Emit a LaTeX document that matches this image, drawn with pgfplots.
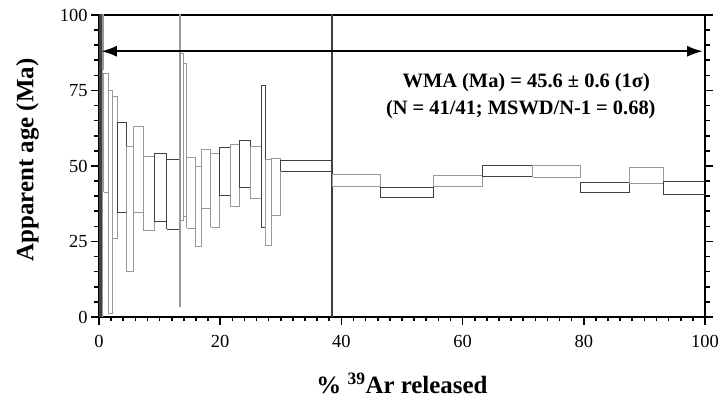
\documentclass[border=0pt]{standalone}
\usepackage{fontspec}
\setmainfont{Liberation Serif}
\usepackage{pgfplots}
\pgfplotsset{compat=1.18}
\usetikzlibrary{arrows.meta}

\definecolor{lg}{gray}{0.6}
\definecolor{dg}{gray}{0.25}

\newcommand{\bx}[5]{\addplot[#5, line width=0.9bp, forget plot] coordinates {(#1,#3) (#1,#4) (#2,#4) (#2,#3) (#1,#3)};}

\begin{document}
\begin{tikzpicture}
\begin{axis}[
  name=ax,
  scale only axis, width=606bp, height=302bp,
  xmin=0, xmax=100, ymin=0, ymax=100,
  xtick={0,20,...,100}, ytick={0,25,...,100},
  minor xtick={0,2,...,100}, minor ytick={0,5,...,100},
  tick align=outside,
  xtick pos=lower, ytick pos=both, yticklabel pos=left,
  major tick length=8bp, minor tick length=4.5bp,
  axis line style={line width=2bp},
  every tick/.style={line width=1.6bp, black},
  tick label style={font=\fontsize{18.5}{18.5}\selectfont},
  xticklabel style={yshift=-7bp},
  /pgf/number format/assume math mode=true,
  xlabel={\% \textsuperscript{39}Ar released},
  ylabel={Apparent age (Ma)},
  label style={font=\bfseries\fontsize{25}{25}\selectfont},
  xlabel style={at={(axis description cs:0.5,-0.2185)}, anchor=center},
  ylabel style={at={(axis description cs:-0.118,0.52)}, anchor=center, rotate=0},
]
% near-zero steps
\bx{0}{0.08}{-20}{150}{dg}
\bx{0.08}{0.16}{-20}{150}{dg}
\bx{0.16}{0.24}{-20}{150}{dg}
\bx{0.24}{0.32}{-20}{150}{dg}
\bx{0.32}{0.42}{13.3}{150}{dg}
\bx{0.42}{0.52}{-20}{150}{dg}
\bx{0.52}{0.62}{-20}{150}{lg}
\bx{0.62}{0.80}{82}{150}{lg}
% main steps
\bx{0.80}{1.53}{41.3}{80.5}{lg}
\bx{1.53}{2.19}{1.3}{75.0}{lg}
\bx{2.19}{3.09}{26.0}{73.0}{lg}
\bx{3.09}{4.57}{34.5}{64.3}{dg}
\bx{4.57}{5.66}{15.0}{56.6}{lg}
\bx{5.66}{7.31}{34.5}{63.2}{lg}
\bx{7.31}{9.13}{28.6}{53.3}{lg}
\bx{9.13}{11.17}{31.6}{54.2}{dg}
\bx{11.17}{13.20}{29.0}{52.3}{dg}
\bx{13.20}{13.37}{3.4}{150}{lg}
\bx{13.37}{13.91}{32.1}{87.3}{lg}
\bx{13.91}{14.47}{33.4}{84.0}{lg}
\bx{14.47}{15.84}{29.4}{52.7}{lg}
\bx{15.84}{16.95}{23.3}{49.8}{lg}
\bx{16.95}{18.43}{36.0}{55.5}{lg}
\bx{18.43}{19.80}{29.7}{54.0}{lg}
\bx{19.80}{21.62}{40.4}{56.1}{dg}
\bx{21.62}{23.10}{36.5}{57.1}{lg}
\bx{23.10}{25.03}{42.8}{58.6}{dg}
\bx{25.03}{26.85}{39.2}{56.4}{lg}
\bx{26.85}{27.39}{29.6}{76.8}{dg}
\bx{27.39}{28.50}{23.6}{52.2}{lg}
\bx{28.50}{29.98}{33.7}{52.4}{lg}
\bx{29.98}{38.40}{48.3}{51.8}{dg}
\bx{38.40}{38.50}{-20}{150}{dg}
\bx{38.50}{46.40}{43.1}{47.2}{lg}
\bx{46.40}{55.20}{39.6}{43.0}{dg}
\bx{55.20}{63.25}{43.1}{46.8}{lg}
\bx{63.25}{71.60}{46.5}{50.1}{dg}
\bx{71.60}{79.50}{46.3}{50.1}{lg}
\bx{79.50}{87.50}{41.2}{44.5}{dg}
\bx{87.50}{93.10}{44.3}{49.4}{lg}
\bx{93.10}{100.0}{40.6}{45.0}{dg}
% plateau arrow
\addplot[line width=2.5bp, black, {Latex[length=16bp,width=11bp]}-{Latex[length=16bp,width=11bp]}, forget plot] coordinates {(0.3,88) (99.7,88)};
\node[font=\bfseries\fontsize{20.5}{20.5}\selectfont] at (axis cs:70.5,77.5) {WMA (Ma) = 45.6 ± 0.6 (1σ)};
\node[font=\bfseries\fontsize{20.5}{20.5}\selectfont] at (axis cs:69.6,68.8) {(N = 41/41; MSWD/N-1 = 0.68)};
\end{axis}
\pgfresetboundingbox
\path ([shift={(-99bp,-86bp)}]ax.south west) rectangle ([shift={(15bp,15bp)}]ax.north east);
\end{tikzpicture}
\end{document}
